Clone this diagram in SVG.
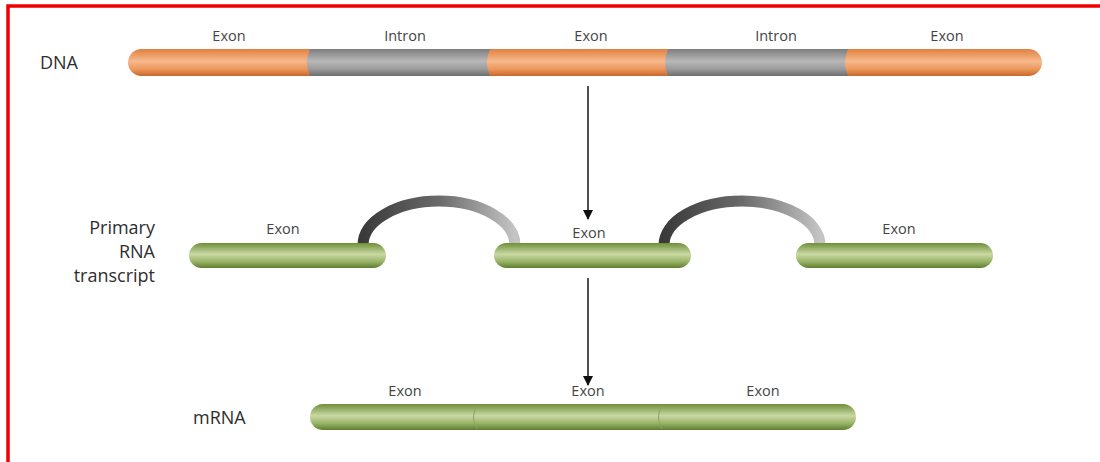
<svg xmlns="http://www.w3.org/2000/svg" width="1100" height="462" viewBox="0 0 1100 462">
<style>
.lbl{font-family:"Open Sans","Liberation Sans",sans-serif;font-size:14.5px;fill:#454545;text-anchor:middle}
.big{font-family:"Open Sans","Liberation Sans",sans-serif;font-size:18px;fill:#2e2e2e}
.conn{stroke:#222;stroke-width:1.6;fill:none}
</style>
<defs>
<linearGradient id="gOr" x1="0" y1="0" x2="0" y2="1">
<stop offset="0" stop-color="#e2803f"/><stop offset="0.45" stop-color="#f6b98c"/><stop offset="0.75" stop-color="#ec975c"/><stop offset="1" stop-color="#c9682c"/>
</linearGradient>
<linearGradient id="gGy" x1="0" y1="0" x2="0" y2="1">
<stop offset="0" stop-color="#7d7d7d"/><stop offset="0.45" stop-color="#b8b8b8"/><stop offset="0.75" stop-color="#9a9a9a"/><stop offset="1" stop-color="#6e6e6e"/>
</linearGradient>
<linearGradient id="gGr" x1="0" y1="0" x2="0" y2="1">
<stop offset="0" stop-color="#6f8f3a"/><stop offset="0.45" stop-color="#c9d9a4"/><stop offset="0.75" stop-color="#98b266"/><stop offset="1" stop-color="#5f7d2e"/>
</linearGradient>
<linearGradient id="gArc" x1="0" y1="0" x2="1" y2="0">
<stop offset="0" stop-color="#3a3a3a"/><stop offset="0.5" stop-color="#6a6a6a"/><stop offset="1" stop-color="#c4c4c4"/>
</linearGradient>
<marker id="ah" markerWidth="10" markerHeight="10" refX="9" refY="5" orient="auto" markerUnits="userSpaceOnUse">
<path d="M0,0 L10,5 L0,10 Z" fill="#111"/>
</marker>
</defs>

<path d="M8,462 V6 H1100" fill="none" stroke="#f00000" stroke-width="3.5"/>

<g id="dna">
<text class="big" x="40" y="69">DNA</text>
<rect x="128" y="49" width="914" height="27" rx="13.5" fill="url(#gOr)"/>
<path d="M310,49 H490 Q484,62.5 490,76 H310 Q304,62.5 310,49 Z" fill="url(#gGy)"/>
<path d="M668,49 H848 Q842,62.5 848,76 H668 Q662,62.5 668,49 Z" fill="url(#gGy)"/>
<text class="lbl" x="229" y="41">Exon</text>
<text class="lbl" x="405" y="41">Intron</text>
<text class="lbl" x="591" y="41">Exon</text>
<text class="lbl" x="776" y="41">Intron</text>
<text class="lbl" x="947" y="41">Exon</text>
</g>

<g id="primary-rna">
<text class="big" x="155" y="234" text-anchor="end">Primary</text>
<text class="big" x="155" y="258" text-anchor="end">RNA</text>
<text class="big" x="155" y="282" text-anchor="end">transcript</text>
<path d="M363,245 A76,44 0 0 1 515,245" fill="none" stroke="url(#gArc)" stroke-width="11"/>
<path d="M664,245 A78,44 0 0 1 820,245" fill="none" stroke="url(#gArc)" stroke-width="11"/>
<rect x="189" y="243" width="197" height="25" rx="12.5" fill="url(#gGr)"/>
<rect x="494" y="243" width="197" height="25" rx="12.5" fill="url(#gGr)"/>
<rect x="796" y="243" width="197" height="25" rx="12.5" fill="url(#gGr)"/>
<text class="lbl" x="283" y="234">Exon</text>
<text class="lbl" x="589" y="238">Exon</text>
<text class="lbl" x="899" y="234">Exon</text>
</g>

<g id="mrna">
<text class="big" x="193" y="424">mRNA</text>
<rect x="310" y="404" width="546" height="26" rx="13" fill="url(#gGr)"/>
<path d="M477,405 Q470,417 477,429" fill="none" stroke="#8aa368" stroke-width="1"/>
<path d="M662,405 Q655,417 662,429" fill="none" stroke="#8aa368" stroke-width="1"/>
<text class="lbl" x="405" y="396">Exon</text>
<text class="lbl" x="588" y="396">Exon</text>
<text class="lbl" x="763" y="396">Exon</text>
</g>

<g id="connectors">
<line class="conn" x1="588" y1="86" x2="588" y2="219" marker-end="url(#ah)"/>
<line class="conn" x1="588" y1="278" x2="588" y2="385" marker-end="url(#ah)"/>
</g>
</svg>
